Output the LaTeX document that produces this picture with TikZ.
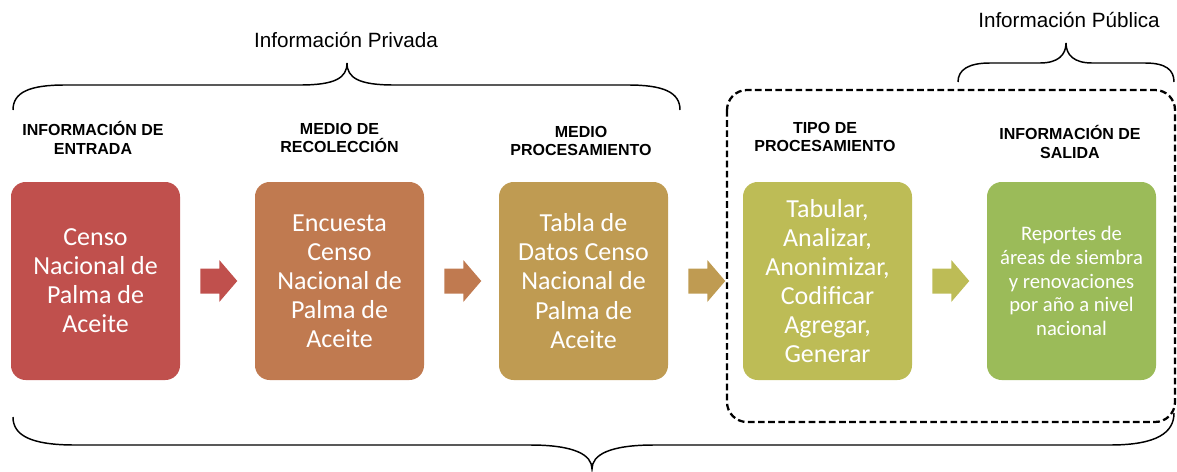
\documentclass[tikz,border=0pt]{standalone}
\usepackage{fontspec}
\setmainfont{Liberation Sans}
\newfontfamily\calibri{Carlito}
\usetikzlibrary{calc}
\definecolor{cA}{HTML}{C0504D}
\definecolor{cB}{HTML}{C07A50}
\definecolor{cC}{HTML}{BF9B52}
\definecolor{cD}{HTML}{BDBC56}
\definecolor{cE}{HTML}{9BBB59}
\begin{document}
\begin{tikzpicture}[x=0.75pt,y=-0.75pt,
  procbox/.style={fill=#1, draw=none, rounded corners=11pt, minimum width=126.75pt,
    minimum height=148.5pt, text=white, align=center, inner sep=0pt,
    font=\calibri\fontsize{19.5}{21.8}\selectfont},
  header/.style={align=center, font=\bfseries\fontsize{12}{14}\selectfont},
  title/.style={font=\fontsize{15.5}{18}\selectfont},
  bracepath/.style={draw=black, line width=1.1pt},
  dashedbox/.style={draw=black, line width=1.7pt, dash pattern=on 5pt off 2.6pt, rounded corners=15pt},
  blockarrow/.pic={\fill[#1] (0,-12.5) -- (19,-12.5) -- (19,-21) -- (37,0) -- (19,21) -- (19,12.5) -- (0,12.5) -- cycle;}
]
\useasboundingbox (0,0) rectangle (1177,471);

% dashed frame
\draw[dashedbox] (727,90) rectangle (1175,422);

% boxes
\node[procbox=cA] (b1) at (95.5,281) {Censo\\Nacional de\\Palma de\\Aceite};
\node[procbox=cB] (b2) at (339.5,281) {Encuesta\\Censo\\Nacional de\\Palma de\\Aceite};
\node[procbox=cC] (b3) at (583.5,281) {Tabla de\\Datos Censo\\Nacional de\\Palma de\\Aceite};
\node[procbox=cD] (b4) at (827.5,281) {Tabular,\\Analizar,\\Anonimizar,\\Codificar\\Agregar,\\Generar};
\node[procbox=cE, font=\calibri\fontsize{15.5}{17.8}\selectfont] (b5) at (1071.5,281) {Reportes de\\áreas de siembra\\y renovaciones\\por año a nivel\\nacional};

% block arrows
\pic at ($(b1.east)+(20,0)$) {blockarrow=cA};
\pic at ($(b2.east)+(20,0)$) {blockarrow=cB};
\pic at ($(b3.east)+(20,0)$) {blockarrow=cC};
\pic at ($(b4.east)+(20,0)$) {blockarrow=cD};

% headers
\node[header] (h1) at (93,138) {INFORMACIÓN DE\\ENTRADA};
\node[header] (h2) at (339.5,138) {MEDIO DE\\RECOLECCIÓN};
\node[header] (h3) at (581,141) {MEDIO\\PROCESAMIENTO};
\node[header] (h4) at (825,137) {TIPO DE\\PROCESAMIENTO};
\node[header] (h5) at (1070,142) {INFORMACIÓN DE\\SALIDA};

% titles
\node[title] (tpriv) at (346,40) {Información Privada};
\node[title] (tpub) at (1069,20) {Información Pública};

% top brace (private)
\draw[bracepath] (13,110) .. controls (13,92) and (30,85) .. (65,85) -- (300,85)
  .. controls (335,85) and (347,78) .. (347,63)
  .. controls (347,78) and (359,85) .. (394,85) -- (628,85)
  .. controls (663,85) and (680,92) .. (680,110);

% small brace (public)
\draw[bracepath] (958,82) .. controls (958,70) and (968,63) .. (990,63) -- (1040,63)
  .. controls (1058,63) and (1066,55) .. (1066,43)
  .. controls (1066,55) and (1074,63) .. (1092,63) -- (1145,63)
  .. controls (1166,63) and (1174,70) .. (1174,82);

% bottom brace
\draw[bracepath] (13,417) .. controls (13,435) and (30,445) .. (75,445) -- (530,445)
  .. controls (575,445) and (592,455) .. (592,469)
  .. controls (592,455) and (609,445) .. (654,445) -- (1110,445)
  .. controls (1158,445) and (1174,432) .. (1174,413);
\end{tikzpicture}
\end{document}
